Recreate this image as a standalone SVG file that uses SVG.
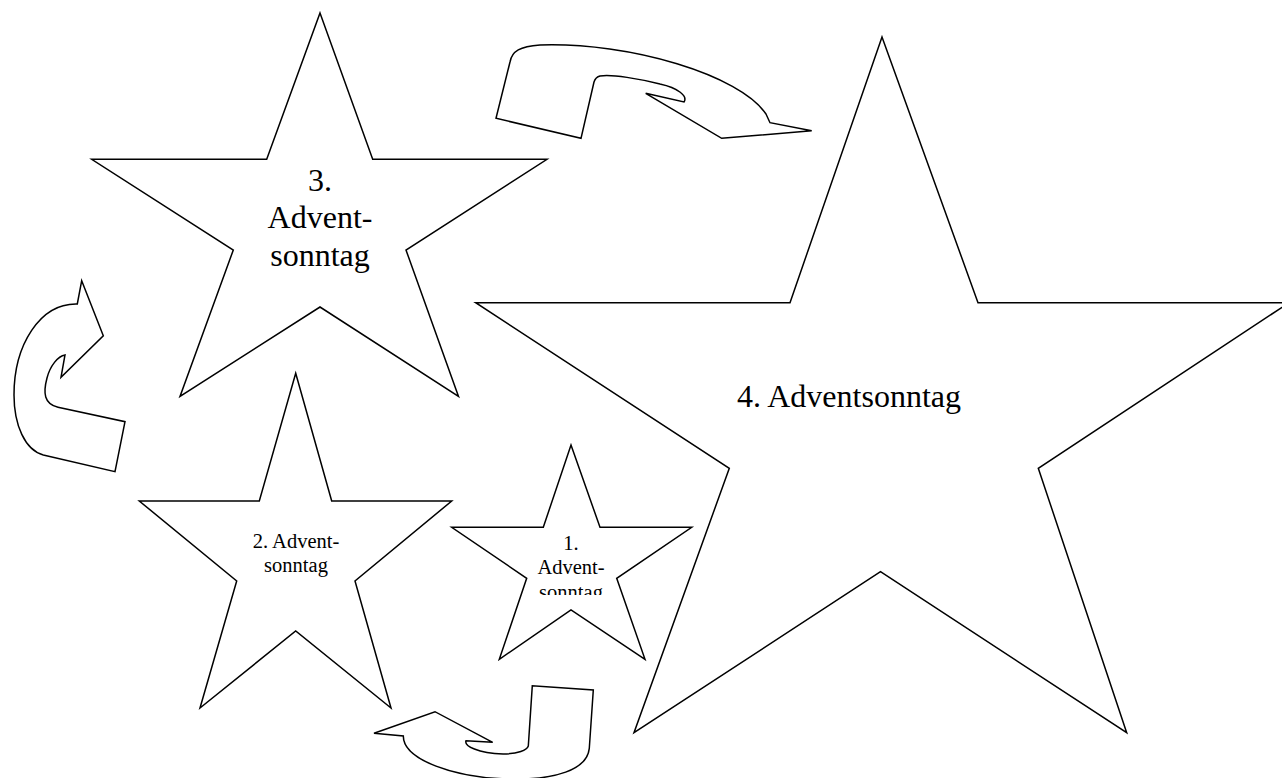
<svg xmlns="http://www.w3.org/2000/svg" width="1282" height="778" viewBox="0 0 1282 778">
<style>
.shape{fill:#ffffff;stroke:#000000;stroke-width:1.5;stroke-linejoin:miter}
.lbl{font-family:"Liberation Serif","Times New Roman",serif;fill:#000000;text-anchor:middle}
.big{font-size:32px}
.small{font-size:20.5px}
</style>
<defs>
<clipPath id="clip1"><rect x="520" y="530" width="105" height="65"/></clipPath>
</defs>
<rect width="1282" height="778" fill="#ffffff"/>
<g id="star4">
<polygon class="shape" points="882,37 978,302.7 1289,302.7 1038.3,468.3 1126.7,732.7 880.5,571.7 634,732.7 729.3,468.3 475.7,302.7 790,302.7"/>
<text class="lbl big" x="849" y="407">4. Adventsonntag</text>
</g>
<g id="star3">
<polygon class="shape" points="320,13 372.7,159.3 547,159.3 406,250 458.5,396.5 320,307 180,396.5 233.3,250 91.7,159.3 266.7,159.3"/>
<text class="lbl big" x="320" y="190.7">3.</text>
<text class="lbl big" x="320" y="228">Advent-</text>
<text class="lbl big" x="320" y="265.7">sonntag</text>
</g>
<g id="star2">
<polygon class="shape" points="295.7,373.3 331.7,501 451.7,501 355,581 391,708 295.7,631 200,708 236.7,581 139.3,501 259.3,501"/>
<text class="lbl small" x="296" y="548.3">2. Advent-</text>
<text class="lbl small" x="296" y="571.7">sonntag</text>
</g>
<g id="star1">
<polygon class="shape" points="571,445 600,527.3 691.7,527.3 616.7,578.3 645,659.3 571,610 499.3,659.3 526.7,578.3 451.7,527.3 543.3,527.3"/>
<g clip-path="url(#clip1)">
<text class="lbl small" x="571" y="550">1.</text>
<text class="lbl small" x="571" y="574.3">Advent-</text>
<text class="lbl small" x="571" y="598.5">sonntag</text>
</g>
</g>
<g id="connectors">
<path id="arrow-3-4" class="shape" d="M 496,118.3 L 510,62 C 512,51 520,46.5 540,45 C 630,42 740,75 766,114 L 770,122.7 L 811.7,130.7 L 721.7,138.3 L 645.7,93.3 L 684,102 C 688,96 678,88 660,84 C 640,79 612,74 600,76 C 596,77 595,79 594,82 L 581,138.3 Z"/>
<path id="arrow-2-3" class="shape" d="M 81.7,280.7 L 103.3,335.7 L 61,377.3 L 65,355 C 58,356 50,366 47,378 C 43,393 44,404 58,407.3 L 125,421.7 L 115,471.7 L 43.3,455 C 25,450 14,425 14,395 C 14,345 40,303 77.3,304 Z"/>
<path id="arrow-1-2" class="shape" d="M 374,733.3 L 435,711.7 L 492.7,742.3 L 466,740.7 C 464,746 478,753 503,754 C 518,754 527,750 528.3,746 L 532.3,685.7 L 593.3,690 L 589.3,748.3 C 587,770 555,780 510,779 C 455,778 403.3,760 403.3,736 Z"/>
</g>
</svg>
